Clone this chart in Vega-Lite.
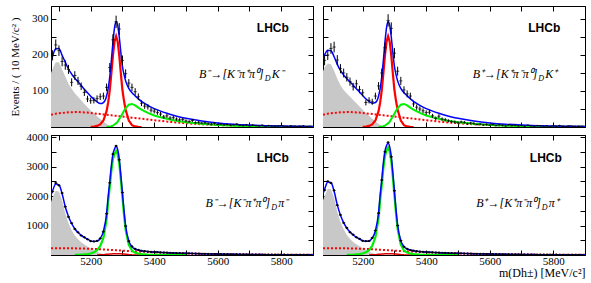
{
"$schema": "https://vega.github.io/schema/vega-lite/v6.json",
"padding": {"left": 9, "top": 5, "right": 5, "bottom": 0},
"background": "white",
"bounds": "flush",
"datasets": {
"tlc": [
{"m":5075,"bl":184,"pr":150,"cb":34},{"m":5080,"bl":197,"pr":162,"cb":35},{"m":5090,"bl":217,"pr":180,"cb":37},{"m":5100,"bl":218,"pr":180,"cb":38},{"m":5110,"bl":199,"pr":160,"cb":39},{"m":5120,"bl":180,"pr":140,"cb":40},{"m":5130,"bl":161,"pr":120,"cb":41},{"m":5140,"bl":147,"pr":106,"cb":41},{"m":5150,"bl":135.5,"pr":94,"cb":41.5},{"m":5160,"bl":125.5,"pr":84,"cb":41.5},{"m":5170,"bl":115,"pr":74,"cb":41},{"m":5180,"bl":104.5,"pr":64,"cb":40.5},{"m":5190,"bl":95,"pr":55,"cb":40},{"m":5200,"bl":85.5,"pr":46,"cb":39,"rd":0.5},{"m":5210,"bl":77.3,"pr":38,"cb":38,"rd":1.3},{"m":5220,"bl":70,"pr":30,"cb":37,"rd":3},{"m":5230,"bl":65,"pr":22,"cb":36,"rd":7},{"m":5240,"bl":68,"pr":15,"cb":35,"rd":18},{"m":5250,"bl":86,"pr":8,"cb":34,"rd":44,"gr":0},{"m":5255,"bl":107.5,"pr":5.5,"cb":33.5,"rd":68,"gr":0.5},{"m":5260,"bl":139.5,"pr":3.5,"cb":33,"rd":102,"gr":1},{"m":5265,"bl":184.5,"pr":2,"cb":32.5,"rd":148,"gr":2},{"m":5270,"bl":235,"pr":1,"cb":32,"rd":198,"gr":4},{"m":5275,"bl":275.5,"pr":0,"cb":31.5,"rd":237,"gr":7},{"m":5280,"bl":293,"cb":31,"rd":252,"gr":10},{"m":5285,"bl":282.5,"cb":30.5,"rd":237,"gr":15},{"m":5290,"bl":250,"cb":30,"rd":198,"gr":22},{"m":5295,"bl":206.5,"cb":29.5,"rd":148,"gr":29},{"m":5300,"bl":168,"cb":29,"rd":102,"gr":37},{"m":5305,"bl":145.5,"cb":28.5,"rd":72,"gr":45},{"m":5310,"bl":128,"cb":28,"rd":48,"gr":52},{"m":5320,"bl":107,"cb":27,"rd":18,"gr":62},{"m":5330,"bl":95,"cb":26,"rd":5,"gr":64},{"m":5340,"bl":86.5,"cb":25,"rd":1.5,"gr":60},{"m":5350,"bl":78.5,"cb":24,"rd":0.5,"gr":54},{"m":5360,"bl":71,"cb":23,"rd":0,"gr":48},{"m":5380,"bl":60,"cb":21,"gr":39},{"m":5400,"bl":51,"cb":19,"gr":32},{"m":5420,"bl":44,"cb":17,"gr":27},{"m":5440,"bl":38,"cb":15,"gr":23},{"m":5460,"bl":32.5,"cb":13.5,"gr":19},{"m":5480,"bl":28,"cb":12,"gr":16},{"m":5500,"bl":24,"cb":10.5,"gr":13.5},{"m":5550,"bl":16.5,"cb":7.5,"gr":9},{"m":5600,"bl":11.3,"cb":5.5,"gr":5.8},{"m":5650,"bl":7.8,"cb":4,"gr":3.8},{"m":5700,"bl":5.5,"cb":3,"gr":2.5},{"m":5750,"bl":3.8,"cb":2.2,"gr":1.6},{"m":5800,"bl":2.6,"cb":1.6,"gr":1},{"m":5850,"bl":1.9,"cb":1.2,"gr":0.7},{"m":5900,"bl":1.3,"cb":0.9,"gr":0.4}
],
"trc": [
{"m":5075,"bl":189,"pr":155,"cb":34},{"m":5080,"bl":200,"pr":165,"cb":35},{"m":5090,"bl":213,"pr":176,"cb":37},{"m":5100,"bl":212,"pr":174,"cb":38},{"m":5110,"bl":195,"pr":156,"cb":39},{"m":5120,"bl":174,"pr":134,"cb":40},{"m":5130,"bl":157,"pr":116,"cb":41},{"m":5140,"bl":144,"pr":103,"cb":41},{"m":5150,"bl":134.5,"pr":93,"cb":41.5},{"m":5160,"bl":125.5,"pr":84,"cb":41.5},{"m":5170,"bl":116,"pr":75,"cb":41},{"m":5180,"bl":106.5,"pr":66,"cb":40.5},{"m":5190,"bl":97,"pr":57,"cb":40},{"m":5200,"bl":87.5,"pr":48,"cb":39,"rd":0.5},{"m":5210,"bl":78.3,"pr":39,"cb":38,"rd":1.3},{"m":5220,"bl":71,"pr":31,"cb":37,"rd":3},{"m":5230,"bl":66,"pr":23,"cb":36,"rd":7},{"m":5240,"bl":68,"pr":15,"cb":35,"rd":18},{"m":5250,"bl":86,"pr":8,"cb":34,"rd":44,"gr":0},{"m":5255,"bl":107.5,"pr":5.5,"cb":33.5,"rd":68,"gr":0.5},{"m":5260,"bl":139.5,"pr":3.5,"cb":33,"rd":102,"gr":1},{"m":5265,"bl":184.5,"pr":2,"cb":32.5,"rd":148,"gr":2},{"m":5270,"bl":235,"pr":1,"cb":32,"rd":198,"gr":4},{"m":5275,"bl":275.5,"pr":0,"cb":31.5,"rd":237,"gr":7},{"m":5280,"bl":293,"cb":31,"rd":252,"gr":10},{"m":5285,"bl":282.5,"cb":30.5,"rd":237,"gr":15},{"m":5290,"bl":250,"cb":30,"rd":198,"gr":22},{"m":5295,"bl":206.5,"cb":29.5,"rd":148,"gr":29},{"m":5300,"bl":168,"cb":29,"rd":102,"gr":37},{"m":5305,"bl":145.5,"cb":28.5,"rd":72,"gr":45},{"m":5310,"bl":128,"cb":28,"rd":48,"gr":52},{"m":5320,"bl":107,"cb":27,"rd":18,"gr":62},{"m":5330,"bl":95,"cb":26,"rd":5,"gr":64},{"m":5340,"bl":86.5,"cb":25,"rd":1.5,"gr":60},{"m":5350,"bl":78.5,"cb":24,"rd":0.5,"gr":54},{"m":5360,"bl":71,"cb":23,"rd":0,"gr":48},{"m":5380,"bl":60,"cb":21,"gr":39},{"m":5400,"bl":51,"cb":19,"gr":32},{"m":5420,"bl":44,"cb":17,"gr":27},{"m":5440,"bl":38,"cb":15,"gr":23},{"m":5460,"bl":32.5,"cb":13.5,"gr":19},{"m":5480,"bl":28,"cb":12,"gr":16},{"m":5500,"bl":24,"cb":10.5,"gr":13.5},{"m":5550,"bl":16.5,"cb":7.5,"gr":9},{"m":5600,"bl":11.3,"cb":5.5,"gr":5.8},{"m":5650,"bl":7.8,"cb":4,"gr":3.8},{"m":5700,"bl":5.5,"cb":3,"gr":2.5},{"m":5750,"bl":3.8,"cb":2.2,"gr":1.6},{"m":5800,"bl":2.6,"cb":1.6,"gr":1},{"m":5850,"bl":1.9,"cb":1.2,"gr":0.7},{"m":5900,"bl":1.3,"cb":0.9,"gr":0.4}
],
"blc": [
{"m":5075,"bl":2025,"pr":1800,"cb":225},{"m":5080,"bl":2176,"pr":1950,"cb":226},{"m":5090,"bl":2408,"pr":2180,"cb":228},{"m":5100,"bl":2379,"pr":2150,"cb":229},{"m":5110,"bl":2080,"pr":1850,"cb":230},{"m":5120,"bl":1630,"pr":1400,"cb":230},{"m":5130,"bl":1309,"pr":1080,"cb":229},{"m":5140,"bl":1068,"pr":840,"cb":228},{"m":5150,"bl":889,"pr":660,"cb":226,"gr":3},{"m":5160,"bl":762,"pr":530,"cb":224,"gr":8},{"m":5170,"bl":669,"pr":435,"cb":221,"gr":13},{"m":5180,"bl":598,"pr":360,"cb":218,"gr":20},{"m":5190,"bl":537,"pr":290,"cb":214,"gr":33},{"m":5200,"bl":480,"pr":220,"cb":210,"gr":50},{"m":5210,"bl":455,"pr":160,"cb":205,"gr":90},{"m":5220,"bl":470,"pr":110,"cb":200,"gr":160,"rd":0},{"m":5230,"bl":559,"pr":65,"cb":194,"gr":300,"rd":5},{"m":5240,"bl":803,"pr":35,"cb":188,"gr":580,"rd":12},{"m":5250,"bl":1397,"pr":15,"cb":182,"gr":1200,"rd":22},{"m":5255,"bl":1987,"pr":8,"cb":179,"gr":1800,"rd":27},{"m":5260,"bl":2480,"pr":4,"cb":176,"gr":2300,"rd":32},{"m":5265,"bl":3024,"pr":2,"cb":172,"gr":2850,"rd":36},{"m":5270,"bl":3419,"pr":0,"cb":169,"gr":3250,"rd":40},{"m":5275,"bl":3596,"cb":166,"gr":3430,"rd":42},{"m":5280,"bl":3692,"cb":162,"gr":3530,"rd":44},{"m":5285,"bl":3569,"cb":159,"gr":3410,"rd":44},{"m":5290,"bl":3256,"cb":156,"gr":3100,"rd":42},{"m":5295,"bl":2702,"cb":152,"gr":2550,"rd":39},{"m":5300,"bl":2099,"cb":149,"gr":1950,"rd":35},{"m":5305,"bl":1496,"cb":146,"gr":1350,"rd":30},{"m":5310,"bl":992,"cb":142,"gr":850,"rd":25},{"m":5320,"bl":476,"cb":136,"gr":340,"rd":15},{"m":5330,"bl":280,"cb":130,"gr":150,"rd":8},{"m":5340,"bl":204,"cb":124,"gr":80,"rd":4},{"m":5350,"bl":168,"cb":118,"gr":50,"rd":2},{"m":5360,"bl":144,"cb":112,"gr":32,"rd":0},{"m":5380,"bl":116,"cb":101,"gr":15},{"m":5400,"bl":100,"cb":91,"gr":9},{"m":5420,"bl":88,"cb":82,"gr":6},{"m":5440,"bl":79,"cb":74,"gr":5},{"m":5460,"bl":70,"cb":66,"gr":4},{"m":5480,"bl":62,"cb":59,"gr":3},{"m":5500,"bl":55.5,"cb":53,"gr":2.5},{"m":5550,"bl":42,"cb":40},{"m":5600,"bl":31,"cb":30},{"m":5650,"bl":23,"cb":22},{"m":5700,"bl":16.5,"cb":16},{"m":5750,"bl":12.5,"cb":12},{"m":5800,"bl":9.3,"cb":9},{"m":5850,"bl":6.8,"cb":6.5},{"m":5900,"bl":5.2,"cb":5}
],
"brc": [
{"m":5075,"bl":2075,"pr":1850,"cb":225},{"m":5080,"bl":2226,"pr":2000,"cb":226},{"m":5090,"bl":2478,"pr":2250,"cb":228},{"m":5100,"bl":2459,"pr":2230,"cb":229},{"m":5110,"bl":2160,"pr":1930,"cb":230},{"m":5120,"bl":1700,"pr":1470,"cb":230},{"m":5130,"bl":1349,"pr":1120,"cb":229},{"m":5140,"bl":1098,"pr":870,"cb":228},{"m":5150,"bl":909,"pr":680,"cb":226,"gr":3},{"m":5160,"bl":777,"pr":545,"cb":224,"gr":8},{"m":5170,"bl":679,"pr":445,"cb":221,"gr":13},{"m":5180,"bl":604,"pr":365,"cb":218,"gr":21},{"m":5190,"bl":543,"pr":295,"cb":214,"gr":34},{"m":5200,"bl":487,"pr":225,"cb":210,"gr":52},{"m":5210,"bl":463,"pr":165,"cb":205,"gr":93},{"m":5220,"bl":477,"pr":112,"cb":200,"gr":165,"rd":0},{"m":5230,"bl":570,"pr":66,"cb":194,"gr":310,"rd":5},{"m":5240,"bl":823,"pr":35,"cb":188,"gr":600,"rd":12},{"m":5250,"bl":1437,"pr":15,"cb":182,"gr":1240,"rd":22},{"m":5255,"bl":2037,"pr":8,"cb":179,"gr":1850,"rd":27},{"m":5260,"bl":2550,"pr":4,"cb":176,"gr":2370,"rd":32},{"m":5265,"bl":3114,"pr":2,"cb":172,"gr":2940,"rd":36},{"m":5270,"bl":3519,"pr":0,"cb":169,"gr":3350,"rd":40},{"m":5275,"bl":3706,"cb":166,"gr":3540,"rd":42},{"m":5280,"bl":3802,"cb":162,"gr":3640,"rd":44},{"m":5285,"bl":3669,"cb":159,"gr":3510,"rd":44},{"m":5290,"bl":3346,"cb":156,"gr":3190,"rd":42},{"m":5295,"bl":2782,"cb":152,"gr":2630,"rd":39},{"m":5300,"bl":2159,"cb":149,"gr":2010,"rd":35},{"m":5305,"bl":1536,"cb":146,"gr":1390,"rd":30},{"m":5310,"bl":1017,"cb":142,"gr":875,"rd":25},{"m":5320,"bl":486,"cb":136,"gr":350,"rd":15},{"m":5330,"bl":285,"cb":130,"gr":155,"rd":8},{"m":5340,"bl":206,"cb":124,"gr":82,"rd":4},{"m":5350,"bl":170,"cb":118,"gr":52,"rd":2},{"m":5360,"bl":145,"cb":112,"gr":33,"rd":0},{"m":5380,"bl":116,"cb":101,"gr":15},{"m":5400,"bl":100,"cb":91,"gr":9},{"m":5420,"bl":88,"cb":82,"gr":6},{"m":5440,"bl":79,"cb":74,"gr":5},{"m":5460,"bl":70,"cb":66,"gr":4},{"m":5480,"bl":62,"cb":59,"gr":3},{"m":5500,"bl":55.5,"cb":53,"gr":2.5},{"m":5550,"bl":42,"cb":40},{"m":5600,"bl":31,"cb":30},{"m":5650,"bl":23,"cb":22},{"m":5700,"bl":16.5,"cb":16},{"m":5750,"bl":12.5,"cb":12},{"m":5800,"bl":9.3,"cb":9},{"m":5850,"bl":6.8,"cb":6.5},{"m":5900,"bl":5.2,"cb":5}
],
"tlp": [
{"m":5080,"n":199,"e":14.1},{"m":5090,"n":228,"e":15.1},{"m":5100,"n":212,"e":14.6},{"m":5110,"n":182,"e":13.5},{"m":5120,"n":172,"e":13.1},{"m":5130,"n":160,"e":12.6},{"m":5140,"n":124,"e":11.1},{"m":5150,"n":143,"e":12},{"m":5160,"n":128,"e":11.3},{"m":5170,"n":113,"e":10.6},{"m":5180,"n":96,"e":9.8},{"m":5190,"n":78,"e":8.8},{"m":5200,"n":73,"e":8.5},{"m":5210,"n":74,"e":8.6},{"m":5220,"n":79,"e":8.9},{"m":5230,"n":84,"e":9.2},{"m":5240,"n":86,"e":9.3},{"m":5250,"n":110,"e":10.5},{"m":5260,"n":165,"e":12.8},{"m":5270,"n":242,"e":15.6},{"m":5280,"n":292,"e":17.1},{"m":5290,"n":272,"e":16.5},{"m":5300,"n":185,"e":13.6},{"m":5310,"n":148,"e":12.2},{"m":5320,"n":122,"e":11},{"m":5330,"n":110,"e":10.5},{"m":5340,"n":98,"e":9.9},{"m":5350,"n":84,"e":9.2},{"m":5360,"n":66,"e":8.1},{"m":5370,"n":58,"e":7.6},{"m":5380,"n":56,"e":7.5},{"m":5390,"n":47,"e":6.9},{"m":5400,"n":44,"e":6.6},{"m":5410,"n":40,"e":6.3},{"m":5420,"n":36,"e":6},{"m":5430,"n":28,"e":5.3},{"m":5440,"n":31,"e":5.6},{"m":5450,"n":25,"e":5},{"m":5460,"n":26,"e":5.1},{"m":5470,"n":22,"e":4.7},{"m":5480,"n":20,"e":4.5},{"m":5490,"n":21,"e":4.6},{"m":5500,"n":17,"e":4.1},{"m":5510,"n":15,"e":3.9},{"m":5520,"n":18,"e":4.2},{"m":5530,"n":12,"e":3.5},{"m":5540,"n":13,"e":3.6},{"m":5550,"n":11,"e":3.3},{"m":5560,"n":12,"e":3.5},{"m":5570,"n":9,"e":3},{"m":5580,"n":8,"e":2.8},{"m":5590,"n":10,"e":3.2},{"m":5600,"n":7,"e":2.6},{"m":5610,"n":8,"e":2.8},{"m":5620,"n":6,"e":2.4},{"m":5630,"n":7,"e":2.6},{"m":5640,"n":5,"e":2.2},{"m":5650,"n":6,"e":2.4},{"m":5660,"n":8,"e":2.8},{"m":5670,"n":5,"e":2.2},{"m":5680,"n":4,"e":2},{"m":5690,"n":6,"e":2.4},{"m":5700,"n":3,"e":1.7},{"m":5710,"n":5,"e":2.2},{"m":5720,"n":4,"e":2},{"m":5730,"n":3,"e":1.7},{"m":5740,"n":5,"e":2.2},{"m":5750,"n":2,"e":1.4},{"m":5760,"n":4,"e":2},{"m":5770,"n":3,"e":1.7},{"m":5780,"n":2,"e":1.4},{"m":5790,"n":3,"e":1.7},{"m":5800,"n":4,"e":2},{"m":5810,"n":2,"e":1.4},{"m":5820,"n":1,"e":1},{"m":5830,"n":3,"e":1.7},{"m":5840,"n":2,"e":1.4},{"m":5850,"n":1,"e":1},{"m":5860,"n":2,"e":1.4},{"m":5870,"n":3,"e":1.7},{"m":5880,"n":1,"e":1},{"m":5890,"n":2,"e":1.4}
],
"trp": [
{"m":5080,"n":185,"e":13.6},{"m":5090,"n":200,"e":14.1},{"m":5100,"n":218,"e":14.8},{"m":5110,"n":222,"e":14.9},{"m":5120,"n":186,"e":13.6},{"m":5130,"n":162,"e":12.7},{"m":5140,"n":150,"e":12.2},{"m":5150,"n":138,"e":11.7},{"m":5160,"n":126,"e":11.2},{"m":5170,"n":112,"e":10.6},{"m":5180,"n":120,"e":11},{"m":5190,"n":104,"e":10.2},{"m":5200,"n":95,"e":9.7},{"m":5210,"n":68,"e":8.2},{"m":5220,"n":74,"e":8.6},{"m":5230,"n":70,"e":8.4},{"m":5240,"n":86,"e":9.3},{"m":5250,"n":114,"e":10.7},{"m":5260,"n":150,"e":12.2},{"m":5270,"n":220,"e":14.8},{"m":5280,"n":296,"e":17.2},{"m":5290,"n":274,"e":16.6},{"m":5300,"n":205,"e":14.3},{"m":5310,"n":155,"e":12.4},{"m":5320,"n":128,"e":11.3},{"m":5330,"n":103,"e":10.1},{"m":5340,"n":92,"e":9.6},{"m":5350,"n":86,"e":9.3},{"m":5360,"n":64,"e":8},{"m":5370,"n":55,"e":7.4},{"m":5380,"n":50,"e":7.1},{"m":5390,"n":45,"e":6.7},{"m":5400,"n":40,"e":6.3},{"m":5410,"n":41,"e":6.4},{"m":5420,"n":31,"e":5.6},{"m":5430,"n":24,"e":4.9},{"m":5440,"n":30,"e":5.5},{"m":5450,"n":22,"e":4.7},{"m":5460,"n":20,"e":4.5},{"m":5470,"n":17,"e":4.1},{"m":5480,"n":15,"e":3.9},{"m":5490,"n":14,"e":3.7},{"m":5500,"n":12,"e":3.5},{"m":5510,"n":14,"e":3.7},{"m":5520,"n":13,"e":3.6},{"m":5530,"n":9,"e":3},{"m":5540,"n":11,"e":3.3},{"m":5550,"n":10,"e":3.2},{"m":5560,"n":7,"e":2.6},{"m":5570,"n":8,"e":2.8},{"m":5580,"n":6,"e":2.4},{"m":5590,"n":7,"e":2.6},{"m":5600,"n":5,"e":2.2},{"m":5610,"n":7,"e":2.6},{"m":5620,"n":4,"e":2},{"m":5630,"n":6,"e":2.4},{"m":5640,"n":5,"e":2.2},{"m":5650,"n":3,"e":1.7},{"m":5660,"n":6,"e":2.4},{"m":5670,"n":4,"e":2},{"m":5680,"n":5,"e":2.2},{"m":5690,"n":3,"e":1.7},{"m":5700,"n":4,"e":2},{"m":5710,"n":2,"e":1.4},{"m":5720,"n":5,"e":2.2},{"m":5730,"n":3,"e":1.7},{"m":5740,"n":2,"e":1.4},{"m":5750,"n":4,"e":2},{"m":5760,"n":3,"e":1.7},{"m":5770,"n":2,"e":1.4},{"m":5780,"n":3,"e":1.7},{"m":5790,"n":1,"e":1},{"m":5800,"n":3,"e":1.7},{"m":5810,"n":2,"e":1.4},{"m":5820,"n":4,"e":2},{"m":5830,"n":2,"e":1.4},{"m":5840,"n":1,"e":1},{"m":5850,"n":3,"e":1.7},{"m":5860,"n":2,"e":1.4},{"m":5870,"n":1,"e":1},{"m":5880,"n":2,"e":1.4},{"m":5890,"n":2,"e":1.4}
],
"blp": [
{"m":5080,"n":2150},{"m":5090,"n":2440},{"m":5100,"n":2360},{"m":5110,"n":2100},{"m":5120,"n":1640},{"m":5130,"n":1290},{"m":5140,"n":1080},{"m":5150,"n":880},{"m":5160,"n":770},{"m":5170,"n":660},{"m":5180,"n":600},{"m":5190,"n":530},{"m":5200,"n":470},{"m":5210,"n":460},{"m":5220,"n":480},{"m":5230,"n":560},{"m":5240,"n":790},{"m":5250,"n":1400},{"m":5260,"n":2450},{"m":5270,"n":3420},{"m":5280,"n":3700},{"m":5290,"n":3230},{"m":5300,"n":2120},{"m":5310,"n":980},{"m":5320,"n":470},{"m":5330,"n":290},{"m":5340,"n":205},{"m":5350,"n":170},{"m":5360,"n":140},{"m":5370,"n":130},{"m":5380,"n":118},{"m":5390,"n":105},{"m":5400,"n":98},{"m":5410,"n":95},{"m":5420,"n":86},{"m":5430,"n":82},{"m":5440,"n":80},{"m":5450,"n":72},{"m":5460,"n":68},{"m":5470,"n":66},{"m":5480,"n":60},{"m":5490,"n":58},{"m":5500,"n":55},{"m":5510,"n":52},{"m":5520,"n":48},{"m":5530,"n":47},{"m":5540,"n":44},{"m":5550,"n":42},{"m":5560,"n":40},{"m":5570,"n":37},{"m":5580,"n":34},{"m":5590,"n":33},{"m":5600,"n":31},{"m":5610,"n":30},{"m":5620,"n":28},{"m":5630,"n":26},{"m":5640,"n":24},{"m":5650,"n":23},{"m":5660,"n":22},{"m":5670,"n":20},{"m":5680,"n":19},{"m":5690,"n":18},{"m":5700,"n":17},{"m":5710,"n":16},{"m":5720,"n":15},{"m":5730,"n":14},{"m":5740,"n":13},{"m":5750,"n":12},{"m":5760,"n":12},{"m":5770,"n":11},{"m":5780,"n":10},{"m":5790,"n":10},{"m":5800,"n":9},{"m":5810,"n":9},{"m":5820,"n":8},{"m":5830,"n":8},{"m":5840,"n":7},{"m":5850,"n":7},{"m":5860,"n":6},{"m":5870,"n":6},{"m":5880,"n":5},{"m":5890,"n":5}
],
"brp": [
{"m":5080,"n":2200},{"m":5090,"n":2500},{"m":5100,"n":2440},{"m":5110,"n":2190},{"m":5120,"n":1690},{"m":5130,"n":1360},{"m":5140,"n":1090},{"m":5150,"n":920},{"m":5160,"n":770},{"m":5170,"n":690},{"m":5180,"n":600},{"m":5190,"n":550},{"m":5200,"n":480},{"m":5210,"n":470},{"m":5220,"n":475},{"m":5230,"n":580},{"m":5240,"n":830},{"m":5250,"n":1420},{"m":5260,"n":2540},{"m":5270,"n":3500},{"m":5280,"n":3820},{"m":5290,"n":3330},{"m":5300,"n":2180},{"m":5310,"n":1000},{"m":5320,"n":490},{"m":5330,"n":280},{"m":5340,"n":210},{"m":5350,"n":165},{"m":5360,"n":148},{"m":5370,"n":128},{"m":5380,"n":114},{"m":5390,"n":108},{"m":5400,"n":100},{"m":5410,"n":92},{"m":5420,"n":90},{"m":5430,"n":84},{"m":5440,"n":78},{"m":5450,"n":74},{"m":5460,"n":70},{"m":5470,"n":66},{"m":5480,"n":63},{"m":5490,"n":58},{"m":5500,"n":56},{"m":5510,"n":53},{"m":5520,"n":50},{"m":5530,"n":47},{"m":5540,"n":45},{"m":5550,"n":42},{"m":5560,"n":40},{"m":5570,"n":37},{"m":5580,"n":35},{"m":5590,"n":33},{"m":5600,"n":31},{"m":5610,"n":29},{"m":5620,"n":28},{"m":5630,"n":26},{"m":5640,"n":25},{"m":5650,"n":23},{"m":5660,"n":21},{"m":5670,"n":20},{"m":5680,"n":19},{"m":5690,"n":18},{"m":5700,"n":16},{"m":5710,"n":16},{"m":5720,"n":15},{"m":5730,"n":14},{"m":5740,"n":13},{"m":5750,"n":12},{"m":5760,"n":11},{"m":5770,"n":11},{"m":5780,"n":10},{"m":5790,"n":10},{"m":5800,"n":9},{"m":5810,"n":9},{"m":5820,"n":8},{"m":5830,"n":7},{"m":5840,"n":7},{"m":5850,"n":7},{"m":5860,"n":6},{"m":5870,"n":6},{"m":5880,"n":5},{"m":5890,"n":5}
]
},
"columns": 2,
"spacing": {"row": 8, "column": 10},
"concat": [
{
"width": 262, "height": 121,
"layer": [
{"data": {"name": "tlc"}, "mark": {"type": "area", "color": "#c8c8c8", "clip": true},
 "encoding": {"x": {"field": "m", "type": "quantitative", "scale": {"domain": [5075, 5900], "nice": false, "zero": false}, "axis": {"orient": "bottom", "values": [5100,5200,5300,5400,5500,5600,5700,5800], "labels": false, "title": null}},
  "y": {"field": "pr", "type": "quantitative", "scale": {"domain": [0, 336], "nice": false}, "axis": {"orient": "left", "values": [50,100,150,200,250,300], "format": "d", "labelExpr": "datum.value % 100 == 0 ? datum.label : ''", "title": "Events / ( 10 MeV/c² )", "titleFontSize": 11, "titlePadding": 11}}}},
{"data": {"name": "tlc"}, "mark": {"type": "line", "color": "#ff0000", "strokeDash": [2, 2], "strokeWidth": 2, "clip": true},
 "encoding": {"x": {"field": "m", "type": "quantitative", "axis": null}, "y": {"field": "cb", "type": "quantitative", "axis": null}}},
{"data": {"name": "tlc"}, "mark": {"type": "line", "color": "#ff0000", "strokeWidth": 2.2, "clip": true},
 "encoding": {"x": {"field": "m", "type": "quantitative", "axis": null}, "y": {"field": "rd", "type": "quantitative", "axis": null}}},
{"data": {"name": "tlc"}, "mark": {"type": "line", "color": "#00ee00", "strokeWidth": 2, "clip": true},
 "encoding": {"x": {"field": "m", "type": "quantitative", "axis": null}, "y": {"field": "gr", "type": "quantitative", "axis": null}}},
{"data": {"name": "tlc"}, "mark": {"type": "line", "color": "#0000ff", "strokeWidth": 1.5, "clip": true, "interpolate": "monotone"},
 "encoding": {"x": {"field": "m", "type": "quantitative", "axis": null}, "y": {"field": "bl", "type": "quantitative", "axis": null}}},
{"data": {"name": "tlp"}, "mark": {"type": "errorbar", "color": "black", "thickness": 1},
 "encoding": {"x": {"field": "m", "type": "quantitative", "axis": null}, "y": {"field": "n", "type": "quantitative", "axis": null}, "yError": {"field": "e"}}},
{"data": {"name": "tlp"}, "mark": {"type": "tick", "orient": "horizontal", "size": 3.2, "thickness": 1, "color": "black"},
 "encoding": {"x": {"field": "m", "type": "quantitative", "axis": null}, "y": {"field": "n", "type": "quantitative", "axis": null}}},
{"data": {"values": [{}]}, "mark": {"type": "text", "font": "Liberation Sans", "fontWeight": "bold", "fontSize": 12, "align": "right", "baseline": "middle"},
 "encoding": {"x": {"datum": 5824, "type": "quantitative", "axis": null}, "y": {"datum": 274, "type": "quantitative", "axis": null}, "text": {"value": "LHCb"}}},
{"data": {"values": [{}]}, "mark": {"type": "text", "font": "Liberation Serif", "fontStyle": "italic", "fontSize": 12, "align": "right", "baseline": "middle"},
 "encoding": {"x": {"datum": 5745, "type": "quantitative", "axis": null}, "y": {"datum": 147, "type": "quantitative", "axis": null}, "text": {"value": "B⁻→[K⁻π⁺π⁰]"}}},
{"data": {"values": [{}]}, "mark": {"type": "text", "font": "Liberation Serif", "fontStyle": "italic", "fontSize": 8, "align": "left", "baseline": "middle", "dx": 1, "dy": 5},
 "encoding": {"x": {"datum": 5745, "type": "quantitative", "axis": null}, "y": {"datum": 147, "type": "quantitative", "axis": null}, "text": {"value": "D"}}},
{"data": {"values": [{}]}, "mark": {"type": "text", "font": "Liberation Serif", "fontStyle": "italic", "fontSize": 12, "align": "left", "baseline": "middle", "dx": 8},
 "encoding": {"x": {"datum": 5745, "type": "quantitative", "axis": null}, "y": {"datum": 147, "type": "quantitative", "axis": null}, "text": {"value": "K⁻"}}},
{"data": {"name": "tlp"}, "mark": {"type": "point", "opacity": 0},
 "encoding": {"x": {"field": "m", "type": "quantitative", "axis": {"orient": "top", "values": [5100,5200,5300,5400,5500,5600,5700,5800], "labels": false, "title": null}},
  "y": {"field": "n", "type": "quantitative", "axis": {"orient": "right", "values": [50,100,150,200,250,300], "labels": false, "title": null}}}}
],
"resolve": {"axis": {"x": "independent", "y": "independent"}}
},
{
"width": 262, "height": 121,
"layer": [
{"data": {"name": "trc"}, "mark": {"type": "area", "color": "#c8c8c8", "clip": true},
 "encoding": {"x": {"field": "m", "type": "quantitative", "scale": {"domain": [5075, 5900], "nice": false, "zero": false}, "axis": {"orient": "bottom", "values": [5100,5200,5300,5400,5500,5600,5700,5800], "labels": false, "title": null}},
  "y": {"field": "pr", "type": "quantitative", "scale": {"domain": [0, 336], "nice": false}, "axis": {"orient": "left", "values": [50,100,150,200,250,300], "labels": false, "title": null}}}},
{"data": {"name": "trc"}, "mark": {"type": "line", "color": "#ff0000", "strokeDash": [2, 2], "strokeWidth": 2, "clip": true},
 "encoding": {"x": {"field": "m", "type": "quantitative", "axis": null}, "y": {"field": "cb", "type": "quantitative", "axis": null}}},
{"data": {"name": "trc"}, "mark": {"type": "line", "color": "#ff0000", "strokeWidth": 2.2, "clip": true},
 "encoding": {"x": {"field": "m", "type": "quantitative", "axis": null}, "y": {"field": "rd", "type": "quantitative", "axis": null}}},
{"data": {"name": "trc"}, "mark": {"type": "line", "color": "#00ee00", "strokeWidth": 2, "clip": true},
 "encoding": {"x": {"field": "m", "type": "quantitative", "axis": null}, "y": {"field": "gr", "type": "quantitative", "axis": null}}},
{"data": {"name": "trc"}, "mark": {"type": "line", "color": "#0000ff", "strokeWidth": 1.5, "clip": true, "interpolate": "monotone"},
 "encoding": {"x": {"field": "m", "type": "quantitative", "axis": null}, "y": {"field": "bl", "type": "quantitative", "axis": null}}},
{"data": {"name": "trp"}, "mark": {"type": "errorbar", "color": "black", "thickness": 1},
 "encoding": {"x": {"field": "m", "type": "quantitative", "axis": null}, "y": {"field": "n", "type": "quantitative", "axis": null}, "yError": {"field": "e"}}},
{"data": {"name": "trp"}, "mark": {"type": "tick", "orient": "horizontal", "size": 3.2, "thickness": 1, "color": "black"},
 "encoding": {"x": {"field": "m", "type": "quantitative", "axis": null}, "y": {"field": "n", "type": "quantitative", "axis": null}}},
{"data": {"values": [{}]}, "mark": {"type": "text", "font": "Liberation Sans", "fontWeight": "bold", "fontSize": 12, "align": "right", "baseline": "middle"},
 "encoding": {"x": {"datum": 5822, "type": "quantitative", "axis": null}, "y": {"datum": 274, "type": "quantitative", "axis": null}, "text": {"value": "LHCb"}}},
{"data": {"values": [{}]}, "mark": {"type": "text", "font": "Liberation Serif", "fontStyle": "italic", "fontSize": 12, "align": "right", "baseline": "middle"},
 "encoding": {"x": {"datum": 5750, "type": "quantitative", "axis": null}, "y": {"datum": 147, "type": "quantitative", "axis": null}, "text": {"value": "B⁺→[K⁺π⁻π⁰]"}}},
{"data": {"values": [{}]}, "mark": {"type": "text", "font": "Liberation Serif", "fontStyle": "italic", "fontSize": 8, "align": "left", "baseline": "middle", "dx": 1, "dy": 5},
 "encoding": {"x": {"datum": 5750, "type": "quantitative", "axis": null}, "y": {"datum": 147, "type": "quantitative", "axis": null}, "text": {"value": "D"}}},
{"data": {"values": [{}]}, "mark": {"type": "text", "font": "Liberation Serif", "fontStyle": "italic", "fontSize": 12, "align": "left", "baseline": "middle", "dx": 8},
 "encoding": {"x": {"datum": 5750, "type": "quantitative", "axis": null}, "y": {"datum": 147, "type": "quantitative", "axis": null}, "text": {"value": "K⁺"}}},
{"data": {"name": "trp"}, "mark": {"type": "point", "opacity": 0},
 "encoding": {"x": {"field": "m", "type": "quantitative", "axis": {"orient": "top", "values": [5100,5200,5300,5400,5500,5600,5700,5800], "labels": false, "title": null}},
  "y": {"field": "n", "type": "quantitative", "axis": {"orient": "right", "values": [50,100,150,200,250,300], "labels": false, "title": null}}}}
],
"resolve": {"axis": {"x": "independent", "y": "independent"}}
},
{
"width": 262, "height": 120,
"layer": [
{"data": {"name": "blc"}, "mark": {"type": "area", "color": "#c8c8c8", "clip": true},
 "encoding": {"x": {"field": "m", "type": "quantitative", "scale": {"domain": [5075, 5900], "nice": false, "zero": false}, "axis": {"orient": "bottom", "values": [5100,5200,5300,5400,5500,5600,5700,5800], "format": "d", "labelExpr": "datum.value % 200 == 0 ? datum.label : ''", "title": null, "labelPadding": 5}},
  "y": {"field": "pr", "type": "quantitative", "scale": {"domain": [0, 4070], "nice": false}, "axis": {"orient": "left", "values": [500,1000,1500,2000,2500,3000,3500,4000], "format": "d", "labelExpr": "datum.value % 1000 == 0 ? datum.label : ''", "title": null}}}},
{"data": {"name": "blc"}, "mark": {"type": "line", "color": "#ff0000", "strokeDash": [2, 2], "strokeWidth": 2, "clip": true},
 "encoding": {"x": {"field": "m", "type": "quantitative", "axis": null}, "y": {"field": "cb", "type": "quantitative", "axis": null}}},
{"data": {"name": "blc"}, "mark": {"type": "line", "color": "#dd0000", "strokeWidth": 1.5, "clip": true},
 "encoding": {"x": {"field": "m", "type": "quantitative", "axis": null}, "y": {"field": "rd", "type": "quantitative", "axis": null}}},
{"data": {"name": "blc"}, "mark": {"type": "line", "color": "#00ee00", "strokeWidth": 2.2, "clip": true},
 "encoding": {"x": {"field": "m", "type": "quantitative", "axis": null}, "y": {"field": "gr", "type": "quantitative", "axis": null}}},
{"data": {"name": "blc"}, "mark": {"type": "line", "color": "#0000ff", "strokeWidth": 1.5, "clip": true, "interpolate": "monotone"},
 "encoding": {"x": {"field": "m", "type": "quantitative", "axis": null}, "y": {"field": "bl", "type": "quantitative", "axis": null}}},
{"data": {"name": "blp"}, "mark": {"type": "tick", "orient": "horizontal", "size": 3.2, "thickness": 1, "color": "black"},
 "encoding": {"x": {"field": "m", "type": "quantitative", "axis": null}, "y": {"field": "n", "type": "quantitative", "axis": null}}},
{"data": {"name": "blp"}, "mark": {"type": "point", "filled": true, "size": 5, "color": "black", "opacity": 1},
 "encoding": {"x": {"field": "m", "type": "quantitative", "axis": null}, "y": {"field": "n", "type": "quantitative", "axis": null}}},
{"data": {"values": [{}]}, "mark": {"type": "text", "font": "Liberation Sans", "fontWeight": "bold", "fontSize": 12, "align": "right", "baseline": "middle"},
 "encoding": {"x": {"datum": 5824, "type": "quantitative", "axis": null}, "y": {"datum": 3298, "type": "quantitative", "axis": null}, "text": {"value": "LHCb"}}},
{"data": {"values": [{}]}, "mark": {"type": "text", "font": "Liberation Serif", "fontStyle": "italic", "fontSize": 12, "align": "right", "baseline": "middle"},
 "encoding": {"x": {"datum": 5765, "type": "quantitative", "axis": null}, "y": {"datum": 1763, "type": "quantitative", "axis": null}, "text": {"value": "B⁻→[K⁻π⁺π⁰]"}}},
{"data": {"values": [{}]}, "mark": {"type": "text", "font": "Liberation Serif", "fontStyle": "italic", "fontSize": 8, "align": "left", "baseline": "middle", "dx": 1, "dy": 5},
 "encoding": {"x": {"datum": 5765, "type": "quantitative", "axis": null}, "y": {"datum": 1763, "type": "quantitative", "axis": null}, "text": {"value": "D"}}},
{"data": {"values": [{}]}, "mark": {"type": "text", "font": "Liberation Serif", "fontStyle": "italic", "fontSize": 12, "align": "left", "baseline": "middle", "dx": 8},
 "encoding": {"x": {"datum": 5765, "type": "quantitative", "axis": null}, "y": {"datum": 1763, "type": "quantitative", "axis": null}, "text": {"value": "π⁻"}}},
{"data": {"name": "blp"}, "mark": {"type": "point", "opacity": 0},
 "encoding": {"x": {"field": "m", "type": "quantitative", "axis": {"orient": "top", "values": [5100,5200,5300,5400,5500,5600,5700,5800], "labels": false, "title": null}},
  "y": {"field": "n", "type": "quantitative", "axis": {"orient": "right", "values": [500,1000,1500,2000,2500,3000,3500,4000], "labels": false, "title": null}}}}
],
"resolve": {"axis": {"x": "independent", "y": "independent"}}
},
{
"width": 262, "height": 120,
"layer": [
{"data": {"name": "brc"}, "mark": {"type": "area", "color": "#c8c8c8", "clip": true},
 "encoding": {"x": {"field": "m", "type": "quantitative", "scale": {"domain": [5075, 5900], "nice": false, "zero": false}, "axis": {"orient": "bottom", "values": [5100,5200,5300,5400,5500,5600,5700,5800], "format": "d", "labelExpr": "datum.value % 200 == 0 ? datum.label : ''", "labelPadding": 5, "title": "m(Dh±) [MeV/c²]", "titleAnchor": "end", "titleFontSize": 12, "titlePadding": 1}},
  "y": {"field": "pr", "type": "quantitative", "scale": {"domain": [0, 4070], "nice": false}, "axis": {"orient": "left", "values": [500,1000,1500,2000,2500,3000,3500,4000], "labels": false, "title": null}}}},
{"data": {"name": "brc"}, "mark": {"type": "line", "color": "#ff0000", "strokeDash": [2, 2], "strokeWidth": 2, "clip": true},
 "encoding": {"x": {"field": "m", "type": "quantitative", "axis": null}, "y": {"field": "cb", "type": "quantitative", "axis": null}}},
{"data": {"name": "brc"}, "mark": {"type": "line", "color": "#dd0000", "strokeWidth": 1.5, "clip": true},
 "encoding": {"x": {"field": "m", "type": "quantitative", "axis": null}, "y": {"field": "rd", "type": "quantitative", "axis": null}}},
{"data": {"name": "brc"}, "mark": {"type": "line", "color": "#00ee00", "strokeWidth": 2.2, "clip": true},
 "encoding": {"x": {"field": "m", "type": "quantitative", "axis": null}, "y": {"field": "gr", "type": "quantitative", "axis": null}}},
{"data": {"name": "brc"}, "mark": {"type": "line", "color": "#0000ff", "strokeWidth": 1.5, "clip": true, "interpolate": "monotone"},
 "encoding": {"x": {"field": "m", "type": "quantitative", "axis": null}, "y": {"field": "bl", "type": "quantitative", "axis": null}}},
{"data": {"name": "brp"}, "mark": {"type": "tick", "orient": "horizontal", "size": 3.2, "thickness": 1, "color": "black"},
 "encoding": {"x": {"field": "m", "type": "quantitative", "axis": null}, "y": {"field": "n", "type": "quantitative", "axis": null}}},
{"data": {"name": "brp"}, "mark": {"type": "point", "filled": true, "size": 5, "color": "black", "opacity": 1},
 "encoding": {"x": {"field": "m", "type": "quantitative", "axis": null}, "y": {"field": "n", "type": "quantitative", "axis": null}}},
{"data": {"values": [{}]}, "mark": {"type": "text", "font": "Liberation Sans", "fontWeight": "bold", "fontSize": 12, "align": "right", "baseline": "middle"},
 "encoding": {"x": {"datum": 5827, "type": "quantitative", "axis": null}, "y": {"datum": 3298, "type": "quantitative", "axis": null}, "text": {"value": "LHCb"}}},
{"data": {"values": [{}]}, "mark": {"type": "text", "font": "Liberation Serif", "fontStyle": "italic", "fontSize": 12, "align": "right", "baseline": "middle"},
 "encoding": {"x": {"datum": 5761, "type": "quantitative", "axis": null}, "y": {"datum": 1763, "type": "quantitative", "axis": null}, "text": {"value": "B⁺→[K⁺π⁻π⁰]"}}},
{"data": {"values": [{}]}, "mark": {"type": "text", "font": "Liberation Serif", "fontStyle": "italic", "fontSize": 8, "align": "left", "baseline": "middle", "dx": 1, "dy": 5},
 "encoding": {"x": {"datum": 5761, "type": "quantitative", "axis": null}, "y": {"datum": 1763, "type": "quantitative", "axis": null}, "text": {"value": "D"}}},
{"data": {"values": [{}]}, "mark": {"type": "text", "font": "Liberation Serif", "fontStyle": "italic", "fontSize": 12, "align": "left", "baseline": "middle", "dx": 8},
 "encoding": {"x": {"datum": 5761, "type": "quantitative", "axis": null}, "y": {"datum": 1763, "type": "quantitative", "axis": null}, "text": {"value": "π⁺"}}},
{"data": {"name": "brp"}, "mark": {"type": "point", "opacity": 0},
 "encoding": {"x": {"field": "m", "type": "quantitative", "axis": {"orient": "top", "values": [5100,5200,5300,5400,5500,5600,5700,5800], "labels": false, "title": null}},
  "y": {"field": "n", "type": "quantitative", "axis": {"orient": "right", "values": [500,1000,1500,2000,2500,3000,3500,4000], "labels": false, "title": null}}}}
],
"resolve": {"axis": {"x": "independent", "y": "independent"}}
}
],
"config": {
"view": {"stroke": "black", "strokeWidth": 1},
"axis": {"domainColor": "black", "tickColor": "black", "labelColor": "black", "labelFont": "Liberation Serif", "labelFontSize": 11, "titleFont": "Liberation Serif", "titleFontWeight": "normal", "titleColor": "black", "grid": false, "tickSize": -5, "labelPadding": 8, "labelFlush": false, "labelOverlap": false, "labelBound": false, "domainWidth": 1, "tickWidth": 1}
}
}
